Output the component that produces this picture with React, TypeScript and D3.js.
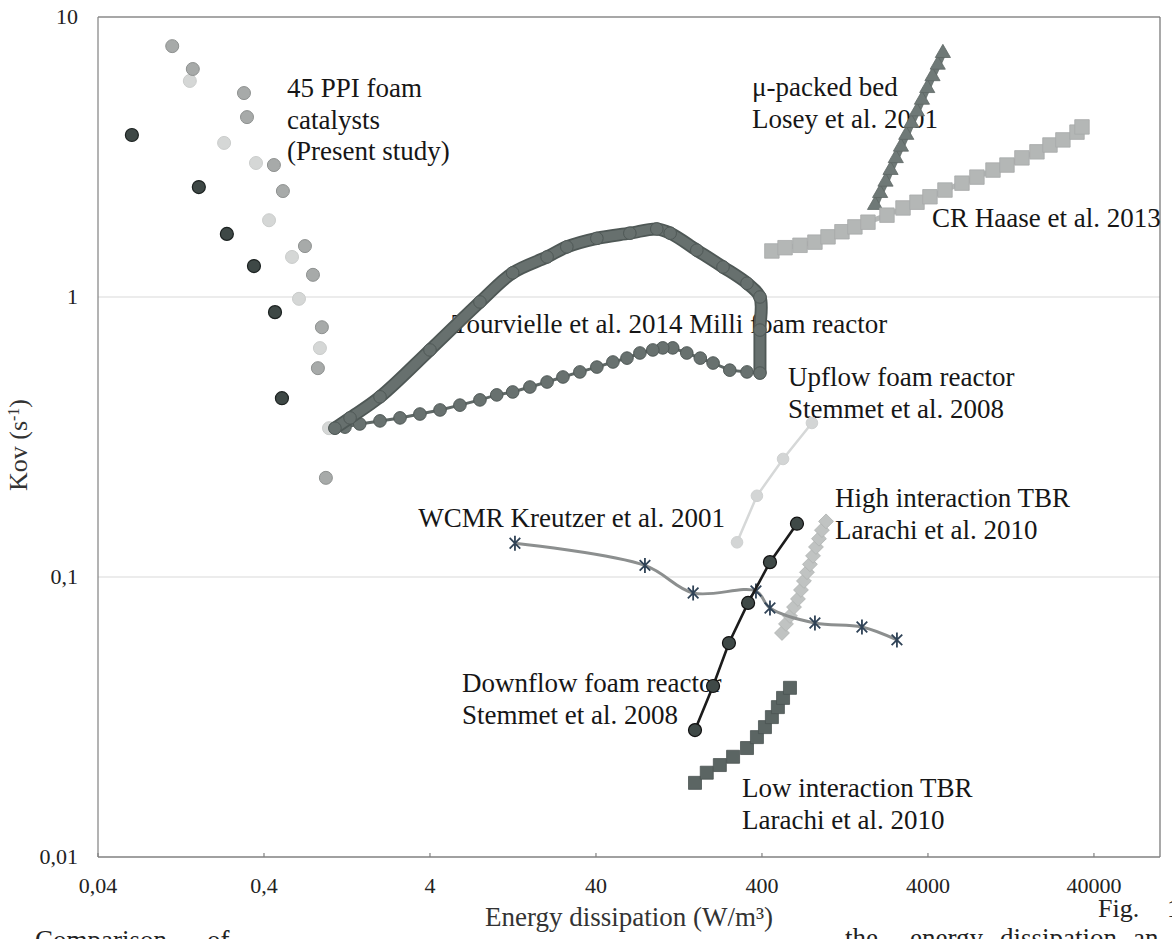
import React from "react";
import * as d3 from "d3";

// ---------- data ----------
const xTickValues = [0.04, 0.4, 4, 40, 400, 4000, 40000];
const xTickLabels = ["0,04", "0,4", "4", "40", "400", "4000", "40000"];
const yTickValues = [0.01, 0.1, 1, 10];
const yTickLabels = ["0,01", "0,1", "1", "10"];
const gridValues = [0.1, 1];

// 45 PPI foam catalysts (present study), three shades
const foamDarkX = [0.064, 0.162, 0.239, 0.348, 0.466, 0.513];
const foamDarkY = [3.79, 2.47, 1.68, 1.29, 0.883, 0.435];
const foamGrayX = [0.112, 0.149, 0.303, 0.316, 0.459, 0.52, 0.706, 0.789, 0.893, 0.845, 0.944];
const foamGrayY = [7.87, 6.52, 5.35, 4.39, 2.96, 2.39, 1.52, 1.2, 0.78, 0.557, 0.226];
const foamLightX = [0.143, 0.23, 0.358, 0.429, 0.59, 0.65, 0.869, 0.986];
const foamLightY = [5.91, 3.55, 3.01, 1.88, 1.39, 0.985, 0.657, 0.34];

// Tourvielle et al. 2014 milli foam reactor (loop)
const tourUpperX = [1.07, 1.32, 2.0, 4.0, 8.0, 12.6, 20.3, 26.7, 40.5, 64, 93, 112, 162, 233, 325, 389, 389, 389];
const tourUpperY = [0.34, 0.37, 0.44, 0.647, 0.96, 1.22, 1.39, 1.51, 1.62, 1.69, 1.75, 1.69, 1.47, 1.28, 1.12, 1.0, 0.762, 0.535];
const tourLowerX = [325, 256, 203, 170, 141, 116, 101, 88, 73.6, 61.5, 50.6, 40.5, 32, 25.3, 20.3, 16, 12.6, 10.1, 8, 6.06, 4.6, 3.48, 2.64, 2.0, 1.51, 1.23];
const tourLowerY = [0.54, 0.548, 0.581, 0.605, 0.631, 0.658, 0.658, 0.647, 0.631, 0.605, 0.586, 0.562, 0.54, 0.518, 0.497, 0.477, 0.458, 0.447, 0.429, 0.411, 0.395, 0.382, 0.37, 0.361, 0.352, 0.343];

// mu-packed bed Losey et al. 2001
const loseyX = [1920, 2060, 2220, 2380, 2560, 2750, 2960, 3180, 3430, 3680, 3960, 4260, 4580, 4920];
const loseyY = [2.13, 2.35, 2.58, 2.84, 3.13, 3.44, 3.79, 4.18, 4.6, 5.06, 5.57, 6.14, 6.75, 7.43];

// CR Haase et al. 2013
const haaseX = [459, 551, 678, 834, 1000, 1213, 1452, 1740, 2265, 2830, 3436, 4112, 5065, 6412, 7889, 9859, 11970, 14730, 18140, 21730, 26000, 31620, 33890];
const haaseY = [1.46, 1.5, 1.53, 1.57, 1.64, 1.71, 1.78, 1.85, 1.96, 2.08, 2.18, 2.28, 2.41, 2.55, 2.68, 2.84, 2.96, 3.14, 3.3, 3.49, 3.64, 3.88, 4.05];

// Upflow foam reactor Stemmet et al. 2008
const upflowX = [283, 373, 536, 800];
const upflowY = [0.133, 0.195, 0.264, 0.355];

// Downflow foam reactor Stemmet et al. 2008
const downflowX = [158, 203, 253, 330, 447, 650];
const downflowY = [0.0284, 0.0408, 0.0581, 0.0808, 0.113, 0.155];

// WCMR Kreutzer et al. 2001
const kreutzerX = [13.0, 78.9, 154, 368, 447, 834, 1601, 2601];
const kreutzerY = [0.132, 0.11, 0.0877, 0.0891, 0.0775, 0.0685, 0.0663, 0.0596];

// High interaction TBR Larachi et al. 2010
const highX = [528, 558, 590, 624, 659, 687, 716, 747, 778, 812, 846, 882, 919, 973];
const highY = [0.0631, 0.068, 0.0726, 0.0781, 0.0835, 0.0899, 0.0968, 0.104, 0.111, 0.119, 0.128, 0.137, 0.147, 0.158];

// Low interaction TBR Larachi et al. 2010
const lowX = [158, 186, 223, 268, 325, 373, 417, 459, 499, 536, 590];
const lowY = [0.0184, 0.02, 0.0213, 0.0228, 0.0245, 0.0268, 0.0291, 0.0316, 0.0343, 0.037, 0.0402];

// ---------- layout ----------
const W = 1172;
const H = 939;
const PL = 98, PR = 1160, PT = 17, PB = 857;
const SERIF = "'Liberation Serif', 'Times New Roman', serif";

type P = [number, number];
const zip = (xs: number[], ys: number[]): P[] => xs.map((v, i) => [v, ys[i]] as P);

function asteriskPath(s: number) {
  const d = s * 0.7071;
  return `M0,${-s}L0,${s}M${-d},${-d}L${d},${d}M${-d},${d}L${d},${-d}`;
}

export default function App() {
  const x = d3.scaleLog().domain([0.04, 100000]).range([PL, PR]);
  const y = d3.scaleLog().domain([0.01, 10]).range([PB, PT]);
  const line = d3.line<P>().x((d) => x(d[0])).y((d) => y(d[1]));
  const smooth = d3.line<P>().x((d) => x(d[0])).y((d) => y(d[1])).curve(d3.curveCatmullRom.alpha(0.5));
  const tri = d3.symbol().type(d3.symbolTriangle).size(100)() as string;
  const sq = (s: number) => d3.symbol().type(d3.symbolSquare).size(s * s)() as string;

  const foamDark = zip(foamDarkX, foamDarkY);
  const foamGray = zip(foamGrayX, foamGrayY);
  const foamLight = zip(foamLightX, foamLightY);
  const tourUpper = zip(tourUpperX, tourUpperY);
  const tourLower = zip(tourLowerX, tourLowerY);
  const losey = zip(loseyX, loseyY);
  const haase = zip(haaseX, haaseY);
  const upflow = zip(upflowX, upflowY);
  const downflow = zip(downflowX, downflowY);
  const kreutzer = zip(kreutzerX, kreutzerY);
  const high = zip(highX, highY);
  const low = zip(lowX, lowY);

  const label = (lines: string[], x0: number, y0: number, anchor = "start") => (
    <text x={x0} y={y0} fontFamily={SERIF} fontSize={27} fill="#161616" textAnchor={anchor}>
      {lines.map((t, i) => (
        <tspan key={i} x={x0} dy={i === 0 ? 0 : 31.5}>
          {t}
        </tspan>
      ))}
    </text>
  );

  return (
    <svg width={W} height={H} style={{ position: "absolute", left: 0, top: 0, background: "#fff" }}>
      <rect x={0} y={0} width={W} height={H} fill="#fff" />
      {/* gridlines */}
      {gridValues.map((g) => (
        <line key={g} x1={PL} x2={PR} y1={y(g)} y2={y(g)} stroke="#dadada" strokeWidth={1.2} />
      ))}
      {/* frame */}
      <line x1={PL} x2={PR} y1={PT} y2={PT} stroke="#8a8a8a" strokeWidth={1.3} />
      <line x1={PR} x2={PR} y1={PT} y2={PB} stroke="#7a7a7a" strokeWidth={1.3} />
      <line x1={PL} x2={PL} y1={PT} y2={PB} stroke="#8a8a8a" strokeWidth={1.3} />
      <line x1={PL} x2={PR} y1={PB} y2={PB} stroke="#808080" strokeWidth={1.5} />
      {xTickValues.map((v, i) => (
        <g key={v}>
          <line x1={x(v)} x2={x(v)} y1={PB} y2={PB - 4} stroke="#808080" strokeWidth={1.2} />
          <text x={x(v)} y={893} fontFamily={SERIF} fontSize={22} fill="#222" textAnchor="middle">
            {xTickLabels[i]}
          </text>
        </g>
      ))}
      {yTickValues.map((v, i) => (
        <text key={v} x={78} y={y(v) + 7} fontFamily={SERIF} fontSize={22} fill="#222" textAnchor="end">
          {yTickLabels[i]}
        </text>
      ))}
      {/* axis titles */}
      <text x={629} y={926} fontFamily={SERIF} fontSize={27} fill="#333" textAnchor="middle">
        Energy dissipation (W/m³)
      </text>
      <text transform="translate(27,445) rotate(-90)" fontFamily={SERIF} fontSize={26} fill="#333" textAnchor="middle">
        Kov (s<tspan baseline-shift="super" fontSize={16}>-1</tspan>)
      </text>

      {/* caption fragments from the page */}
      <text x={1098} y={917} fontFamily={SERIF} fontSize={26} fill="#222">Fig.</text>
      <text x={1167} y={917} fontFamily={SERIF} fontSize={26} fill="#222">1</text>
      <text x={35} y={949} fontFamily={SERIF} fontSize={27} fill="#222">Comparison</text>
      <text x={207} y={949} fontFamily={SERIF} fontSize={27} fill="#222">of</text>
      <text x={845} y={947} fontFamily={SERIF} fontSize={27} fill="#222">the</text>
      <text x={910} y={947} fontFamily={SERIF} fontSize={27} fill="#222">energy</text>
      <text x={1000} y={947} fontFamily={SERIF} fontSize={27} fill="#222">dissipation</text>
      <text x={1133} y={947} fontFamily={SERIF} fontSize={27} fill="#222">an</text>

      {/* series labels */}
      {label(["45 PPI foam", "catalysts", "(Present study)"], 287, 97)}
      {label(["μ-packed bed", "Losey et al. 2001"], 752, 96)}
      {label(["CR Haase et al. 2013"], 932, 227)}
      {label(["Tourvielle et al. 2014 Milli foam reactor"], 452, 333)}
      {label(["Upflow foam reactor", "Stemmet et al. 2008"], 788, 386)}
      {label(["WCMR Kreutzer et al. 2001"], 725, 527, "end")}
      {label(["High interaction TBR", "Larachi et al. 2010"], 835, 507)}
      {label(["Downflow foam reactor", "Stemmet et al. 2008"], 462, 692)}
      {label(["Low interaction TBR", "Larachi et al. 2010"], 742, 797)}

      {/* foam catalysts */}
      {foamLight.map((d, i) => (
        <circle key={"l" + i} cx={x(d[0])} cy={y(d[1])} r={6.5} fill="#d5d7d6" stroke="#cbcdcc" strokeWidth={1} />
      ))}
      {foamGray.map((d, i) => (
        <circle key={"g" + i} cx={x(d[0])} cy={y(d[1])} r={6.5} fill="#a7aaa9" stroke="#8e9190" strokeWidth={1} />
      ))}
      {foamDark.map((d, i) => (
        <circle key={"d" + i} cx={x(d[0])} cy={y(d[1])} r={6.5} fill="#3e4846" stroke="#1c2221" strokeWidth={1.2} />
      ))}

      {/* Tourvielle loop */}
      <path d={line([tourLower[tourLower.length - 1], tourUpper[0]]) || ""} stroke="#5f6866" strokeWidth={3} fill="none" />
      <path d={line(tourLower) || ""} stroke="#5f6866" strokeWidth={3} fill="none" />
      <path d={line([tourUpper[tourUpper.length - 1], tourLower[0]]) || ""} stroke="#5f6866" strokeWidth={3} fill="none" />
      {tourLower.map((d, i) => (
        <circle key={"t" + i} cx={x(d[0])} cy={y(d[1])} r={6.3} fill="#68716f" stroke="#4f5856" strokeWidth={1} />
      ))}
      <path d={smooth(tourUpper) || ""} stroke="#4f5856" strokeWidth={13} fill="none" strokeLinejoin="round" strokeLinecap="round" />
      <path d={smooth(tourUpper) || ""} stroke="#67706e" strokeWidth={9.5} fill="none" strokeLinejoin="round" strokeLinecap="round" />
      {tourUpper.map((d, i) => (
        <circle key={"tu" + i} cx={x(d[0])} cy={y(d[1])} r={6.3} fill="#67706e" stroke="#4f5856" strokeWidth={1} />
      ))}

      {/* Losey */}
      <path d={line(losey) || ""} stroke="#6e7876" strokeWidth={7} fill="none" />
      {losey.map((d, i) => (
        <path key={"lo" + i} d={tri} transform={`translate(${x(d[0])},${y(d[1])})`} fill="#6f7977" stroke="#5e6765" strokeWidth={0.8} />
      ))}

      {/* Haase */}
      <path d={line(haase) || ""} stroke="#b4b7b6" strokeWidth={5} fill="none" />
      {haase.map((d, i) => (
        <path key={"h" + i} d={sq(14.5)} transform={`translate(${x(d[0])},${y(d[1])})`} fill="#b4b7b6" stroke="#a7aaa9" strokeWidth={0.8} />
      ))}

      {/* Upflow */}
      <path d={line(upflow) || ""} stroke="#d6d8d8" strokeWidth={2.5} fill="none" />
      {upflow.map((d, i) => (
        <circle key={"u" + i} cx={x(d[0])} cy={y(d[1])} r={5.8} fill="#d3d5d5" stroke="#cfd1d1" strokeWidth={1} />
      ))}

      {/* High interaction */}
      {high.map((d, i) => (
        <path key={"hi" + i} d={sq(10.5)} transform={`translate(${x(d[0])},${y(d[1])}) rotate(45)`} fill="#c0c3c2" stroke="#b0b3b2" strokeWidth={0.8} />
      ))}

      {/* Kreutzer */}
      <path d={smooth(kreutzer) || ""} stroke="#8c8f8f" strokeWidth={3} fill="none" />
      {kreutzer.map((d, i) => (
        <path key={"k" + i} d={asteriskPath(7.5)} transform={`translate(${x(d[0])},${y(d[1])})`} stroke="#2f4256" strokeWidth={1.8} fill="none" />
      ))}

      {/* Low interaction */}
      {low.map((d, i) => (
        <path key={"lw" + i} d={sq(13)} transform={`translate(${x(d[0])},${y(d[1])})`} fill="#5b6563" stroke="#4b5453" strokeWidth={0.8} />
      ))}

      {/* Downflow */}
      <path d={line(downflow) || ""} stroke="#1c1c1c" strokeWidth={2.6} fill="none" />
      {downflow.map((d, i) => (
        <circle key={"df" + i} cx={x(d[0])} cy={y(d[1])} r={6.5} fill="#3f4947" stroke="#111" strokeWidth={1.2} />
      ))}
    </svg>
  );
}
